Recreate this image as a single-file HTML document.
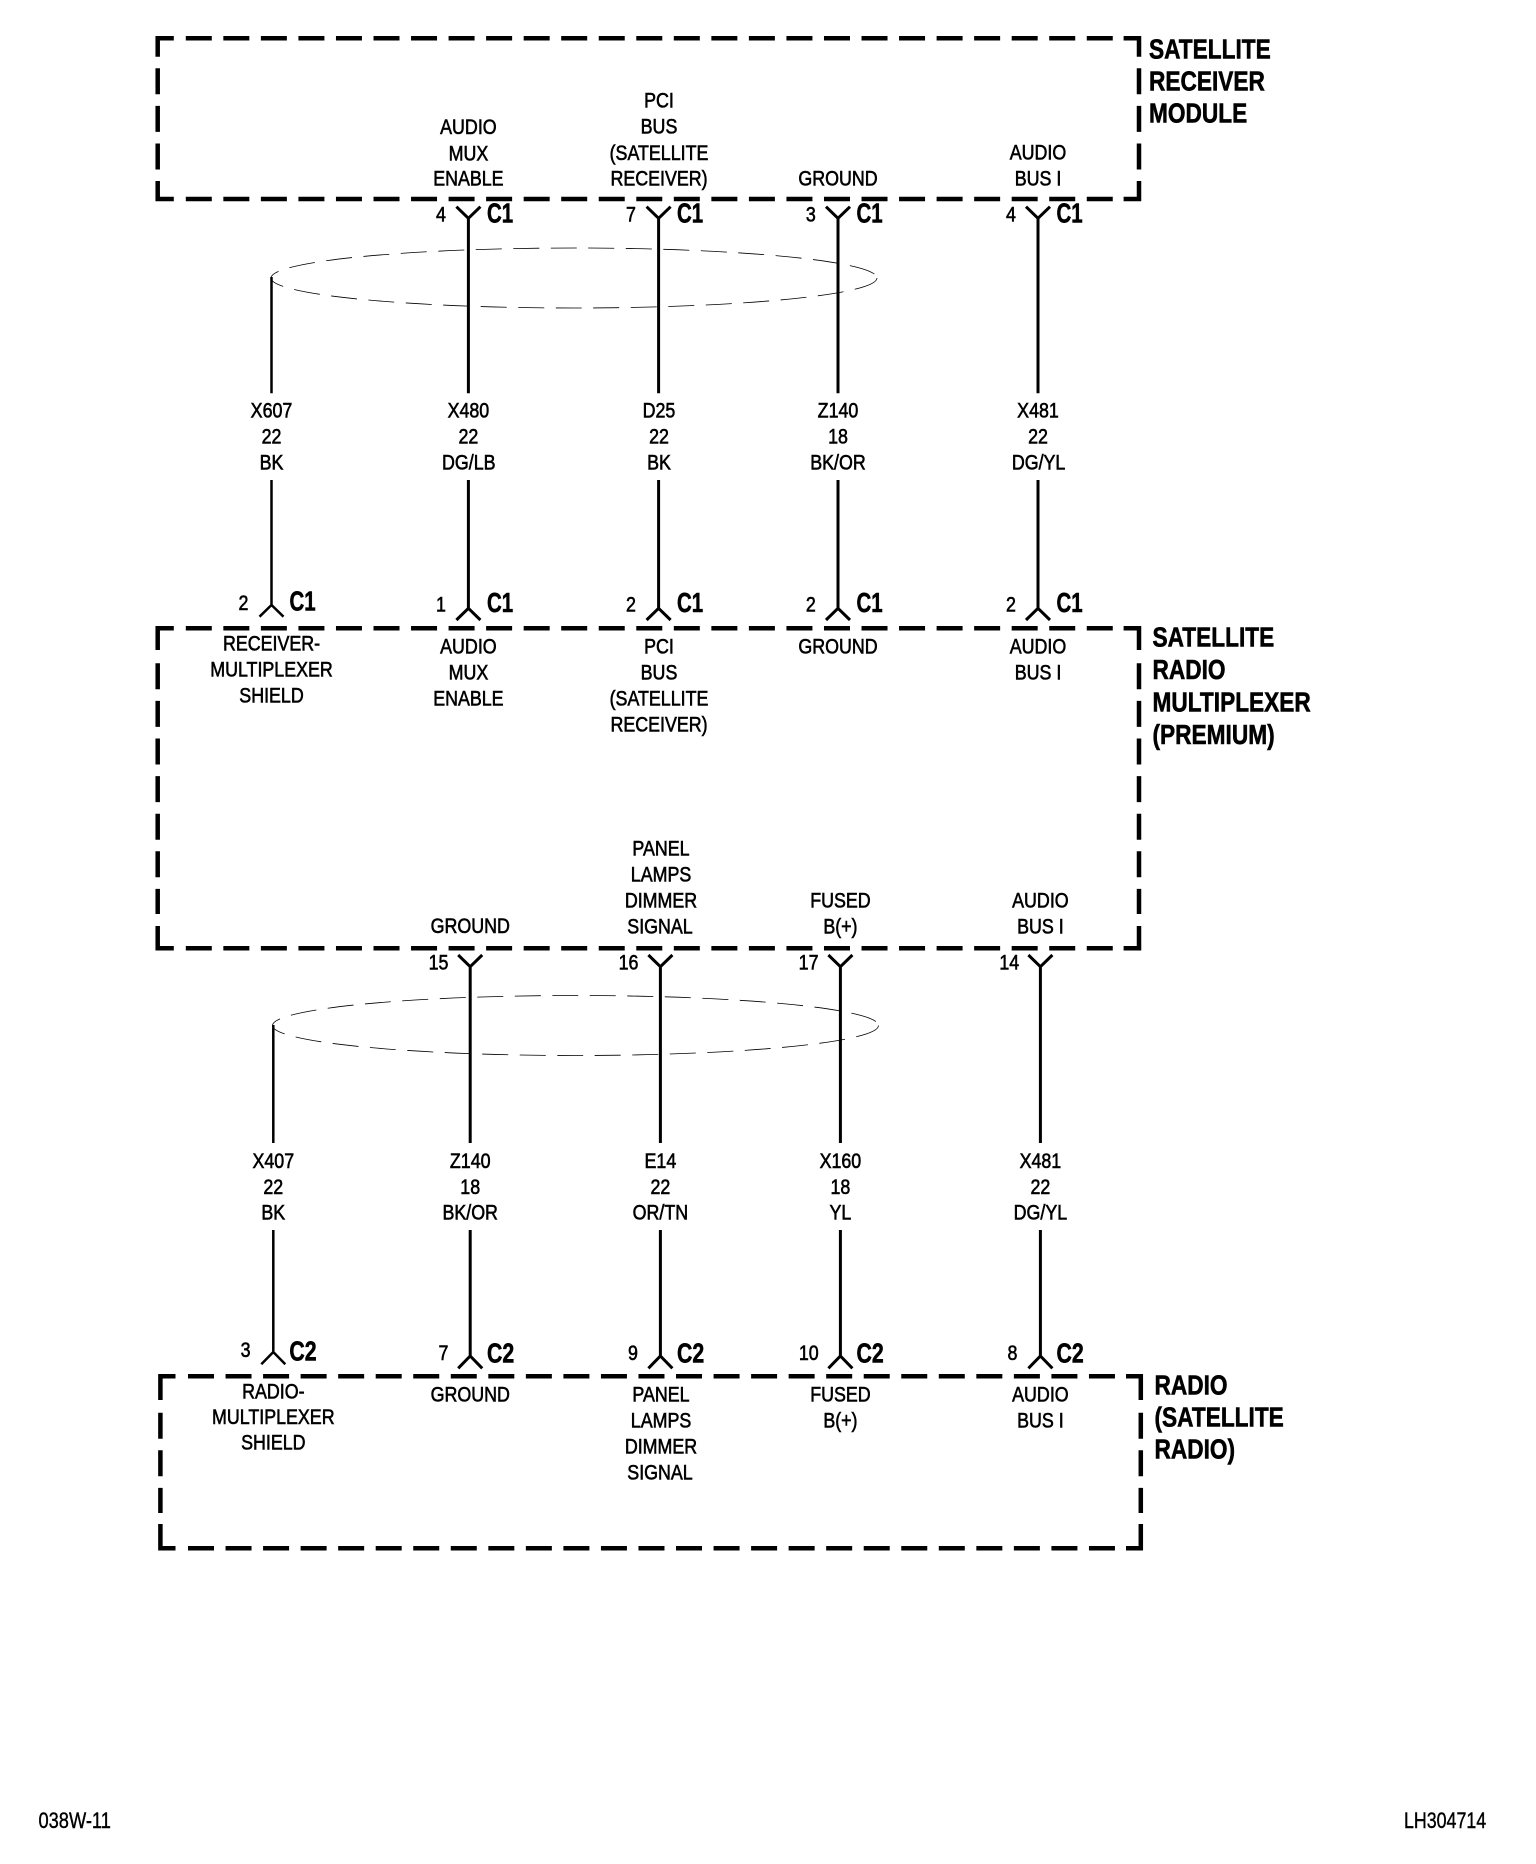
<!DOCTYPE html>
<html><head><meta charset="utf-8"><style>
html,body{margin:0;padding:0;background:#fff}
svg{display:block}
text{font-family:"Liberation Sans",sans-serif;fill:#000}
.r{font-size:21px;text-anchor:middle;stroke:#000;stroke-width:.6}
.b{font-size:28px;font-weight:bold;stroke:#000;stroke-width:.6}
.f{font-size:22px;stroke:#000;stroke-width:.4}
</style></head><body>
<svg xmlns="http://www.w3.org/2000/svg" width="1536" height="1864" viewBox="0 0 1536 1864">
<rect width="1536" height="1864" fill="#fff"/>
<g fill="none" stroke="#000" stroke-width="4.5">
<path d="M173.8 38.3H157.7V56.7M1123.6 38.3H1139V56.7M157.7 181V199H173.8M1139 181V199H1123.6"/>
<path d="M157.7 650V628.3H173.8M1123.6 628.3H1139V650M157.7 926V948.3H173.8M1139 926V948.3H1123.6"/>
<path d="M175.5 1376.3H160.4V1400M1126 1376.3H1140.8V1400M160.4 1524V1548.3H175.5M1140.8 1524V1548.3H1126"/>
<g stroke-dasharray="26 11.54">
<path d="M185.8 38.3H1113"/><path d="M185.8 199H1113"/>
<path d="M185.8 628.3H1113"/><path d="M185.8 948.3H1113"/>
<path d="M188 1376.3H1115"/><path d="M188 1548.3H1115"/>
</g>
<g stroke-dasharray="26 11.6">
<path d="M157.7 68.3V170"/><path d="M1139 68.3V170"/>
<path d="M157.7 663.3V914"/><path d="M1139 663.3V914"/>
<path d="M160.4 1412.7V1513"/><path d="M1140.8 1412.7V1513"/>
</g>
</g>
<g fill="none" stroke="#000" stroke-width=".8" stroke-dasharray="26 11.5">
<ellipse cx="574" cy="278" rx="303" ry="30"/>
<ellipse cx="575.5" cy="1025.5" rx="303" ry="30"/>
</g>
<g fill="none" stroke="#000" stroke-width="2.5">
<path d="M271.5 277V393.3M271.5 480V605M259.5 616.7L271.5 605L283.5 616.7"/>
<path d="M273.3 1025V1143M273.3 1230V1352M261.3 1364.3L273.3 1352L285.3 1364.3"/>
</g>
<g fill="none" stroke="#000" stroke-width="3">
<path d="M468.4 218V393.3M468.4 480V608M456.4 206.7L468.4 218.3L480.4 206.7M456.4 620L468.4 608.3L480.4 620"/>
<path d="M658.6 218V393.3M658.6 480V608M646.6 206.7L658.6 218.3L670.6 206.7M646.6 620L658.6 608.3L670.6 620"/>
<path d="M838 218V393.3M838 480V608M826 206.7L838 218.3L850 206.7M826 620L838 608.3L850 620"/>
<path d="M1038 218V393.3M1038 480V608M1026 206.7L1038 218.3L1050 206.7M1026 620L1038 608.3L1050 620"/>
<path d="M470.2 967V1143M470.2 1230V1356M458.2 955L470.2 966.7L482.2 955M458.2 1368.3L470.2 1356L482.2 1368.3"/>
<path d="M660.4 967V1143M660.4 1230V1356M648.4 955L660.4 966.7L672.4 955M648.4 1368.3L660.4 1356L672.4 1368.3"/>
<path d="M840.4 967V1143M840.4 1230V1356M828.4 955L840.4 966.7L852.4 955M828.4 1368.3L840.4 1356L852.4 1368.3"/>
<path d="M1040.4 967V1143M1040.4 1230V1356M1028.4 955L1040.4 966.7L1052.4 955M1028.4 1368.3L1040.4 1356L1052.4 1368.3"/>
</g>

<g transform="translate(0,-1)">
<!-- box 1 pin labels -->
<text class="r" transform="matrix(.85 0 0 1 468.4 135)">AUDIO</text>
<text class="r" transform="matrix(.85 0 0 1 468.4 161.3)">MUX</text>
<text class="r" transform="matrix(.85 0 0 1 468.4 186.7)">ENABLE</text>
<text class="r" transform="matrix(.85 0 0 1 659 108.3)">PCI</text>
<text class="r" transform="matrix(.85 0 0 1 659 134.3)">BUS</text>
<text class="r" transform="matrix(.85 0 0 1 659 161)">(SATELLITE</text>
<text class="r" transform="matrix(.85 0 0 1 659 186.7)">RECEIVER)</text>
<text class="r" transform="matrix(.85 0 0 1 838 186.7)">GROUND</text>
<text class="r" transform="matrix(.85 0 0 1 1038 160.7)">AUDIO</text>
<text class="r" transform="matrix(.85 0 0 1 1038 186.7)">BUS I</text>
<!-- upper wires -->
<text class="r" transform="matrix(.85 0 0 1 271.5 418.3)">X607</text>
<text class="r" transform="matrix(.85 0 0 1 271.5 444.3)">22</text>
<text class="r" transform="matrix(.85 0 0 1 271.5 470.7)">BK</text>
<text class="r" transform="matrix(.85 0 0 1 468.4 418.3)">X480</text>
<text class="r" transform="matrix(.85 0 0 1 468.4 444.3)">22</text>
<text class="r" transform="matrix(.85 0 0 1 468.8 470.7)">DG/LB</text>
<text class="r" transform="matrix(.85 0 0 1 659 418.3)">D25</text>
<text class="r" transform="matrix(.85 0 0 1 659 444.3)">22</text>
<text class="r" transform="matrix(.85 0 0 1 659 470.7)">BK</text>
<text class="r" transform="matrix(.85 0 0 1 838 418.3)">Z140</text>
<text class="r" transform="matrix(.85 0 0 1 838 444.3)">18</text>
<text class="r" transform="matrix(.85 0 0 1 838 470.7)">BK/OR</text>
<text class="r" transform="matrix(.85 0 0 1 1038 418.3)">X481</text>
<text class="r" transform="matrix(.85 0 0 1 1038 444.3)">22</text>
<text class="r" transform="matrix(.85 0 0 1 1038.6 470.7)">DG/YL</text>
<!-- box 2 upper -->
<text class="r" transform="matrix(.85 0 0 1 271.5 651.7)">RECEIVER-</text>
<text class="r" transform="matrix(.85 0 0 1 271.5 677.7)">MULTIPLEXER</text>
<text class="r" transform="matrix(.85 0 0 1 271.5 703.3)">SHIELD</text>
<text class="r" transform="matrix(.85 0 0 1 468.4 654.3)">AUDIO</text>
<text class="r" transform="matrix(.85 0 0 1 468.4 680.7)">MUX</text>
<text class="r" transform="matrix(.85 0 0 1 468.4 706.7)">ENABLE</text>
<text class="r" transform="matrix(.85 0 0 1 659 654.3)">PCI</text>
<text class="r" transform="matrix(.85 0 0 1 659 680.7)">BUS</text>
<text class="r" transform="matrix(.85 0 0 1 659 706.7)">(SATELLITE</text>
<text class="r" transform="matrix(.85 0 0 1 659 732.7)">RECEIVER)</text>
<text class="r" transform="matrix(.85 0 0 1 838 654.3)">GROUND</text>
<text class="r" transform="matrix(.85 0 0 1 1038 654.3)">AUDIO</text>
<text class="r" transform="matrix(.85 0 0 1 1038 680.7)">BUS I</text>
<!-- box 2 lower -->
<text class="r" transform="matrix(.85 0 0 1 470.2 934)">GROUND</text>
<text class="r" transform="matrix(.85 0 0 1 661 856.7)">PANEL</text>
<text class="r" transform="matrix(.85 0 0 1 661 882.7)">LAMPS</text>
<text class="r" transform="matrix(.85 0 0 1 661 908.3)">DIMMER</text>
<text class="r" transform="matrix(.85 0 0 1 660 934.3)">SIGNAL</text>
<text class="r" transform="matrix(.85 0 0 1 840.4 908.3)">FUSED</text>
<text class="r" transform="matrix(.85 0 0 1 840.4 934.3)">B(+)</text>
<text class="r" transform="matrix(.85 0 0 1 1040.4 908.3)">AUDIO</text>
<text class="r" transform="matrix(.85 0 0 1 1040.4 934.3)">BUS I</text>
<!-- lower wires -->
<text class="r" transform="matrix(.85 0 0 1 273.3 1169)">X407</text>
<text class="r" transform="matrix(.85 0 0 1 273.3 1195)">22</text>
<text class="r" transform="matrix(.85 0 0 1 273.3 1220.7)">BK</text>
<text class="r" transform="matrix(.85 0 0 1 470.2 1169)">Z140</text>
<text class="r" transform="matrix(.85 0 0 1 470.2 1195)">18</text>
<text class="r" transform="matrix(.85 0 0 1 470.2 1220.7)">BK/OR</text>
<text class="r" transform="matrix(.85 0 0 1 660.4 1169)">E14</text>
<text class="r" transform="matrix(.85 0 0 1 660.4 1195)">22</text>
<text class="r" transform="matrix(.85 0 0 1 660.4 1220.7)">OR/TN</text>
<text class="r" transform="matrix(.85 0 0 1 840.4 1169)">X160</text>
<text class="r" transform="matrix(.85 0 0 1 840.4 1195)">18</text>
<text class="r" transform="matrix(.85 0 0 1 840.4 1220.7)">YL</text>
<text class="r" transform="matrix(.85 0 0 1 1040.4 1169)">X481</text>
<text class="r" transform="matrix(.85 0 0 1 1040.4 1195)">22</text>
<text class="r" transform="matrix(.85 0 0 1 1040.4 1220.7)">DG/YL</text>
<!-- box 3 -->
<text class="r" transform="matrix(.85 0 0 1 273.3 1399.3)">RADIO-</text>
<text class="r" transform="matrix(.85 0 0 1 273.3 1425)">MULTIPLEXER</text>
<text class="r" transform="matrix(.85 0 0 1 273.3 1450.7)">SHIELD</text>
<text class="r" transform="matrix(.85 0 0 1 470.2 1402.7)">GROUND</text>
<text class="r" transform="matrix(.85 0 0 1 661 1402.7)">PANEL</text>
<text class="r" transform="matrix(.85 0 0 1 661 1428.3)">LAMPS</text>
<text class="r" transform="matrix(.85 0 0 1 661 1454.3)">DIMMER</text>
<text class="r" transform="matrix(.85 0 0 1 660 1480.7)">SIGNAL</text>
<text class="r" transform="matrix(.85 0 0 1 840.4 1402.7)">FUSED</text>
<text class="r" transform="matrix(.85 0 0 1 840.4 1428.3)">B(+)</text>
<text class="r" transform="matrix(.85 0 0 1 1040.4 1402.7)">AUDIO</text>
<text class="r" transform="matrix(.85 0 0 1 1040.4 1428.3)">BUS I</text>
</g>
<!-- row 1 numbers -->
<text class="r" transform="matrix(.85 0 0 1 441 221.7)">4</text>
<text class="r" transform="matrix(.85 0 0 1 631 221.7)">7</text>
<text class="r" transform="matrix(.85 0 0 1 810.8 221.7)">3</text>
<text class="r" transform="matrix(.85 0 0 1 1011 221.7)">4</text>
<text class="b" transform="matrix(.73 0 0 1 487 222.7)">C1</text>
<text class="b" transform="matrix(.73 0 0 1 677 222.7)">C1</text>
<text class="b" transform="matrix(.73 0 0 1 856.5 222.7)">C1</text>
<text class="b" transform="matrix(.73 0 0 1 1056.5 222.7)">C1</text>
<!-- row 2 numbers -->
<text class="r" transform="matrix(.85 0 0 1 243.4 610)">2</text>
<text class="r" transform="matrix(.85 0 0 1 441 611.7)">1</text>
<text class="r" transform="matrix(.85 0 0 1 631 611.7)">2</text>
<text class="r" transform="matrix(.85 0 0 1 810.8 611.7)">2</text>
<text class="r" transform="matrix(.85 0 0 1 1011 611.7)">2</text>
<text class="b" transform="matrix(.73 0 0 1 289.5 610.7)">C1</text>
<text class="b" transform="matrix(.73 0 0 1 487 612)">C1</text>
<text class="b" transform="matrix(.73 0 0 1 677 612)">C1</text>
<text class="b" transform="matrix(.73 0 0 1 856.5 612)">C1</text>
<text class="b" transform="matrix(.73 0 0 1 1056.5 612)">C1</text>
<!-- row 3 numbers -->
<text class="r" transform="matrix(.85 0 0 1 438.5 969.7)">15</text>
<text class="r" transform="matrix(.85 0 0 1 628.5 969.7)">16</text>
<text class="r" transform="matrix(.85 0 0 1 808.6 969.7)">17</text>
<text class="r" transform="matrix(.85 0 0 1 1009.3 969.7)">14</text>
<!-- row 4 numbers -->
<text class="r" transform="matrix(.85 0 0 1 245.6 1357)">3</text>
<text class="r" transform="matrix(.85 0 0 1 443.4 1360)">7</text>
<text class="r" transform="matrix(.85 0 0 1 633 1360)">9</text>
<text class="r" transform="matrix(.85 0 0 1 808.8 1360)">10</text>
<text class="r" transform="matrix(.85 0 0 1 1012.4 1360)">8</text>
<text class="b" transform="matrix(.76 0 0 1 289.4 1360.7)">C2</text>
<text class="b" transform="matrix(.76 0 0 1 487 1362.3)">C2</text>
<text class="b" transform="matrix(.76 0 0 1 677 1362.3)">C2</text>
<text class="b" transform="matrix(.76 0 0 1 856.5 1362.3)">C2</text>
<text class="b" transform="matrix(.76 0 0 1 1056.5 1362.3)">C2</text>
<!-- titles -->
<text class="b" transform="matrix(.81 0 0 1 1149 58.3)">SATELLITE</text>
<text class="b" transform="matrix(.81 0 0 1 1149 90.3)">RECEIVER</text>
<text class="b" transform="matrix(.81 0 0 1 1149 122.3)">MODULE</text>
<text class="b" transform="matrix(.81 0 0 1 1152.5 646.7)">SATELLITE</text>
<text class="b" transform="matrix(.81 0 0 1 1152.5 679)">RADIO</text>
<text class="b" transform="matrix(.81 0 0 1 1152.5 711.7)">MULTIPLEXER</text>
<text class="b" transform="matrix(.81 0 0 1 1152.5 744)">(PREMIUM)</text>
<text class="b" transform="matrix(.81 0 0 1 1154.5 1394.3)">RADIO</text>
<text class="b" transform="matrix(.81 0 0 1 1154.5 1426.6)">(SATELLITE</text>
<text class="b" transform="matrix(.81 0 0 1 1154.5 1458.6)">RADIO)</text>
<!-- footer -->
<text class="f" transform="matrix(.83 0 0 1 38.5 1822)"></text>
<text class="f" transform="matrix(.83 0 0 1 38.5 1828)">038W-11</text>
<text class="f" transform="matrix(.81 0 0 1 1404 1828)">LH304714</text>
</svg>
</body></html>
